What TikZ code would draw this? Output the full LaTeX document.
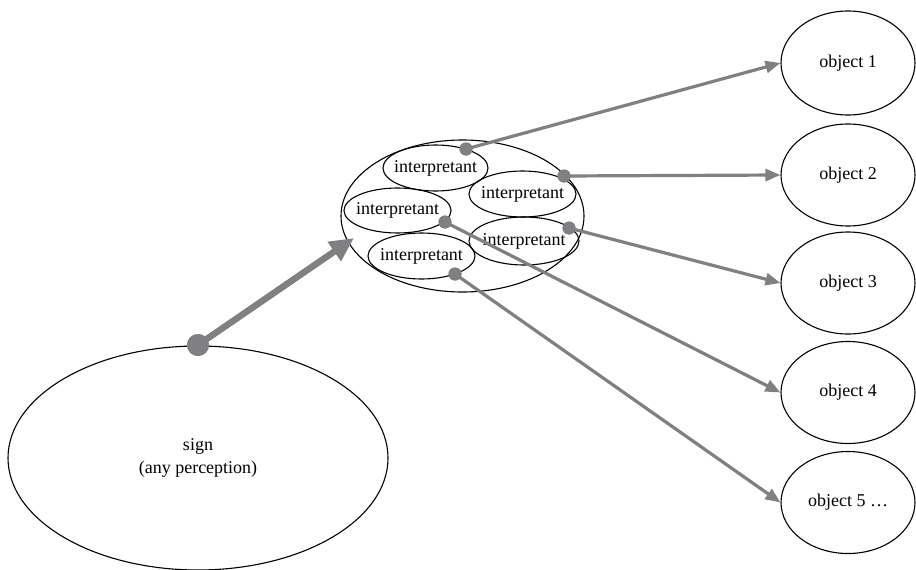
\documentclass[tikz,border=0pt]{standalone}
\usepackage{fontspec}
\setmainfont{Liberation Serif}
\usetikzlibrary{shapes.geometric,arrows.meta}
\definecolor{arrgray}{RGB}{128,128,131}
\begin{document}
\begin{tikzpicture}[x=1pt,y=-1pt,
  ell/.style={draw=black,line width=1.1pt,ellipse,inner sep=0pt,font=\fontsize{18}{23}\selectfont,align=center},
  iell/.style={ell,inner xsep=-16pt,inner ysep=-5pt},
  dot/.style={circle,fill=arrgray,inner sep=0pt,minimum size=13pt},
  bigdot/.style={circle,fill=arrgray,inner sep=0pt,minimum size=22pt},
  conn/.style={draw=arrgray,line width=3.2pt,-{Triangle[length=15pt,width=12pt]}},
  bigconn/.style={draw=arrgray,line width=6.5pt,-{Triangle[length=24pt,width=22pt]}}]
\useasboundingbox (0,0) rectangle (916,570);
% sign
\node[ell,minimum width=380pt,minimum height=224pt] (sign) at (198,458) {sign\\(any perception)};
% big interpretant ellipse
\node[ell,minimum width=243pt,minimum height=152pt] (big) at (462.5,216) {};
\node[iell,minimum width=105pt,minimum height=46pt] (i1) at (435.5,168) {interpretant};
\node[iell,minimum width=107pt,minimum height=46pt] (i2) at (522.5,194) {interpretant};
\node[iell,minimum width=107pt,minimum height=45pt] (i3) at (397.5,210.5) {interpretant};
\node[iell,minimum width=110pt,minimum height=48pt] (i4) at (524,241) {interpretant};
\node[iell,minimum width=107pt,minimum height=46pt] (i5) at (421.5,256) {interpretant};
% objects
\node[ell,minimum width=134pt,minimum height=104pt] (o1) at (848,63) {object 1};
\node[ell,minimum width=134pt,minimum height=102pt] (o2) at (848,175) {object 2};
\node[ell,minimum width=134pt,minimum height=102pt] (o3) at (848,283) {object 3};
\node[ell,minimum width=134pt,minimum height=102pt] (o4) at (848,392.5) {object 4};
\node[ell,minimum width=134pt,minimum height=102pt] (o5) at (848,502.5) {object 5 \dots};
% dots
\node[bigdot] (sd) at (198,345) {};
\node[dot] (d1) at (466,149) {};
\node[dot] (d2) at (564,176) {};
\node[dot] (d3) at (445,222) {};
\node[dot] (d4) at (569,228) {};
\node[dot] (d5) at (455,274) {};
\coordinate (bigtip) at (354,238);
% connectors
\draw[bigconn] (sd.center) -- (bigtip);
\draw[conn] (d1.center) -- (o1.west);
\draw[conn] (d2.center) -- (o2.west);
\draw[conn] (d4.center) -- (o3.west);
\draw[conn] (d3.center) -- (o4.west);
\draw[conn] (d5.center) -- (o5.west);
% redraw dots on top
\node[bigdot] at (sd) {};
\foreach \d in {d1,d2,d3,d4,d5} \node[dot] at (\d) {};
\end{tikzpicture}
\end{document}
